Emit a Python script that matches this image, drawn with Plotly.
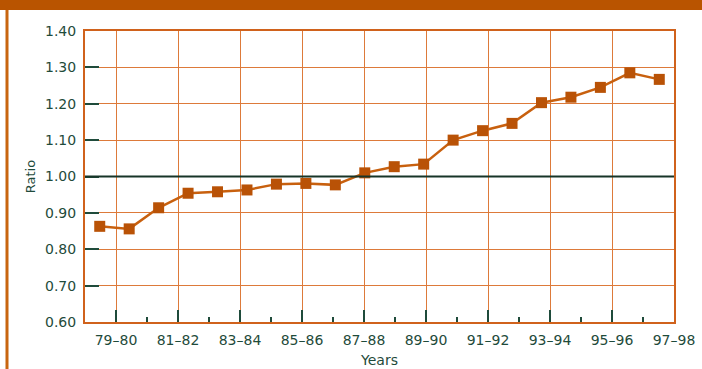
import plotly.graph_objects as go

# School years covered by the series and the ratio for each year
years = ["78–79", "79–80", "80–81", "81–82", "82–83", "83–84", "84–85",
         "85–86", "86–87", "87–88", "88–89", "89–90", "90–91", "91–92",
         "92–93", "93–94", "94–95", "95–96", "96–97", "97–98"]
ratio = [0.863, 0.856, 0.914, 0.954, 0.958, 0.963, 0.979, 0.981, 0.977,
         1.010, 1.027, 1.034, 1.100, 1.126, 1.146, 1.203, 1.218, 1.245,
         1.285, 1.267]

# Labelled ticks on the category axis (every other year)
tick_labels = years[1::2]
tick_pos = list(range(1, len(years), 2))

W, H = 702, 369
ML, MR, MT, MB = 85, 28, 31, 47
pw, ph = W - ML - MR, H - MT - MB

ORANGE = "#d0621c"
GRID = "#dd7a3a"
MARK = "#b95206"
GREEN = "#1f4b3b"
BAND = "#b95400"
FONT = "DejaVu Sans, Verdana, sans-serif"

fig = go.Figure()
# carrier trace for the labelled year axis
fig.add_trace(go.Scatter(
    x=[0, len(years) - 1], y=[0.6, 0.6], mode="markers",
    marker=dict(opacity=0), xaxis="x2", yaxis="y",
    hoverinfo="skip", showlegend=False,
))
fig.add_trace(go.Scatter(
    x=list(range(len(years))), y=ratio, mode="lines+markers",
    line=dict(color="#c8600e", width=2.5),
    marker=dict(symbol="square", size=11, color=MARK),
    xaxis="x", yaxis="y", hoverinfo="skip", showlegend=False,
))

# parity reference line
fig.add_shape(type="line", xref="paper", yref="y", x0=0, x1=1, y0=1.0, y1=1.0,
              line=dict(color="#173528", width=2.2), layer="above")
# header band and left rule
fig.add_shape(type="rect", xref="paper", yref="paper",
              x0=-ML / pw - 0.01, x1=1 + MR / pw + 0.01,
              y0=1 + (MT - 10) / ph, y1=1 + MT / ph + 0.01,
              line=dict(width=0), fillcolor=BAND)
fig.add_shape(type="line", xref="paper", yref="paper",
              x0=(7 - ML) / pw, x1=(7 - ML) / pw,
              y0=1 + (MT - 10) / ph, y1=-MB / ph - 0.01,
              line=dict(color="#c8650f", width=3))

fig.update_layout(
    width=W, height=H,
    margin=dict(l=ML, r=MR, t=MT, b=MB, autoexpand=False),
    paper_bgcolor="white", plot_bgcolor="white",
    font=dict(family=FONT, color=GREEN, size=14),
    xaxis=dict(range=[-0.5, len(years) - 0.5], visible=False,
               showgrid=False, zeroline=False, fixedrange=True,
               automargin=False),
    xaxis2=dict(overlaying="x", side="bottom", anchor="y",
                range=[0, len(years) - 1], automargin=False,
                tickmode="array", tickvals=tick_pos, ticktext=tick_labels,
                ticks="inside", ticklen=12, tickwidth=1.5, tickcolor=GREEN,
                ticklabelstandoff=4,
                minor=dict(tickmode="array", tickvals=list(range(2, len(years) - 1, 2)),
                           ticks="inside", ticklen=5, tickwidth=1.5,
                           tickcolor=GREEN, showgrid=False),
                showgrid=True, gridcolor=GRID, gridwidth=1.3,
                showline=True, linecolor=ORANGE, linewidth=2, mirror=True,
                zeroline=False,
                title=dict(text="Years", font=dict(size=14, color=GREEN), standoff=8),
                tickfont=dict(size=14, color=GREEN)),
    yaxis=dict(range=[0.6, 1.4], dtick=0.1, tick0=0.6, tickformat=".2f",
               automargin=False,
               ticks="inside", ticklen=14, tickwidth=1.5, tickcolor=GREEN,
               ticklabelstandoff=4,
               showgrid=True, gridcolor=GRID, gridwidth=1.2,
               showline=True, linecolor=ORANGE, linewidth=2, mirror=True,
               zeroline=False,
               title=dict(text="Ratio", font=dict(size=13, color=GREEN), standoff=6),
               tickfont=dict(size=14, color=GREEN)),
)

fig.write_html("out.html")
